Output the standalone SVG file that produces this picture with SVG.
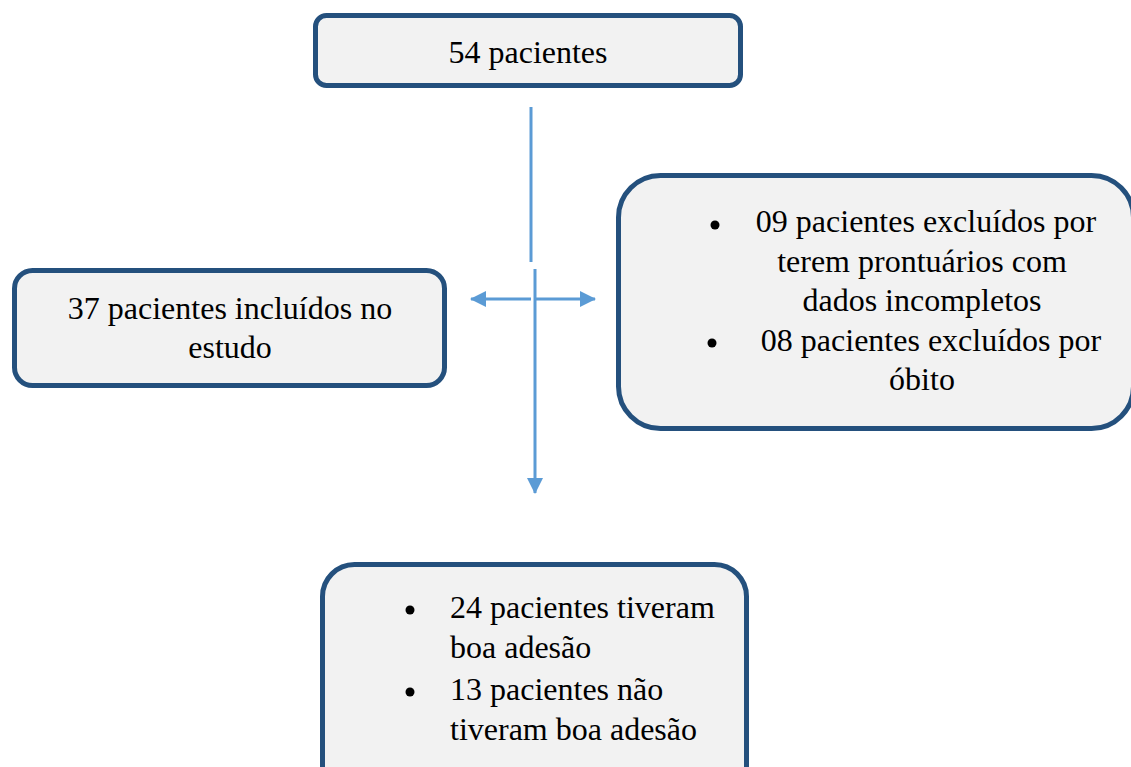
<svg xmlns="http://www.w3.org/2000/svg" width="1131" height="767" viewBox="0 0 1131 767">
<defs>
<style>
.box{fill:#F2F2F2;stroke:#24507D;stroke-width:5}
.c{text-anchor:middle}
.ln{stroke:#5B9BD5;stroke-width:3;fill:none}
</style>
<marker id="ah" viewBox="0 0 16 16" refX="15" refY="8" markerWidth="16" markerHeight="16" markerUnits="userSpaceOnUse" orient="auto">
<path d="M0,0 L16,8 L0,16 z" fill="#5B9BD5"/>
</marker>
</defs>
<rect width="1131" height="767" fill="#fff"/>
<g id="connectors">
<line class="ln" x1="531" y1="107" x2="531" y2="262"/>
<line class="ln" x1="535" y1="269" x2="535" y2="493" marker-end="url(#ah)"/>
<line class="ln" x1="531" y1="299" x2="471" y2="299" marker-end="url(#ah)"/>
<line class="ln" x1="535" y1="299" x2="595" y2="299" marker-end="url(#ah)"/>
</g>
<g font-family="Liberation Serif, Times New Roman, serif" font-size="32" fill="#000">
<g id="n1">
<rect class="box" x="315.5" y="15.5" width="425" height="70" rx="11"/>
<text class="c" x="528" y="63">54 pacientes</text>
</g>
<g id="n2">
<rect class="box" x="14.5" y="270.5" width="430" height="115" rx="18"/>
<text class="c" x="230" y="319">37 pacientes incluídos no</text>
<text class="c" x="230" y="358">estudo</text>
</g>
<g id="n3">
<rect class="box" x="618.5" y="175.5" width="515" height="253" rx="42"/>
<circle cx="715" cy="225" r="4.5"/>
<circle cx="712" cy="343" r="4.5"/>
<text class="c" x="926" y="232">09 pacientes excluídos por</text>
<text class="c" x="922" y="272">terem prontuários com</text>
<text class="c" x="922" y="311">dados incompletos</text>
<text class="c" x="931" y="351">08 pacientes excluídos por</text>
<text class="c" x="922" y="390">óbito</text>
</g>
<g id="n4">
<rect class="box" x="322.5" y="564.5" width="424" height="240" rx="32"/>
<circle cx="410" cy="610" r="4.5"/>
<circle cx="410" cy="692" r="4.5"/>
<text x="450" y="618">24 pacientes tiveram</text>
<text x="450" y="658">boa adesão</text>
<text x="450" y="700">13 pacientes não</text>
<text x="450" y="740">tiveram boa adesão</text>
</g>
</g>
</svg>
